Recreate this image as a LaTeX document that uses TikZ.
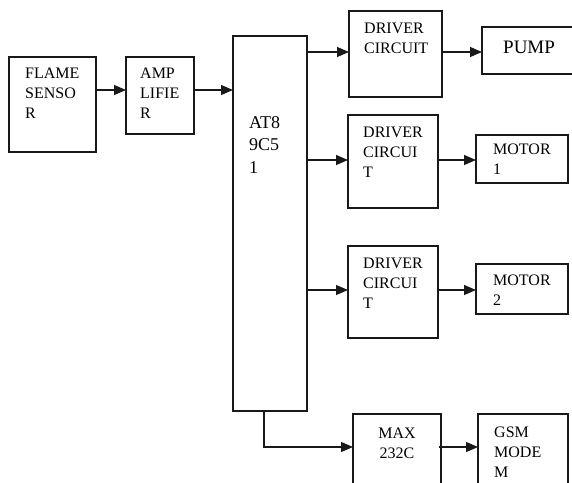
\documentclass[tikz,border=0pt]{standalone}
\usepackage{fontspec}
\setmainfont{Liberation Serif}
\usetikzlibrary{arrows.meta}
\begin{document}
\begin{tikzpicture}[x=1pt,y=-1pt,
  box/.style={draw=black!90, line width=1.1pt, anchor=north west, inner sep=0pt, outer sep=0pt},
  lbl/.style={anchor=base west, inner sep=0pt, align=left, font=\fontsize{16}{20}\selectfont},
  arr/.style={draw=black!90, line width=1.1pt, -{Triangle[length=12pt,width=10pt]}}]
\useasboundingbox (0,0) rectangle (572,482);
\clip (0,0) rectangle (572,482);
% boxes
\node[box, minimum width=87pt, minimum height=95pt] (flame) at (9,57) {};
\node[box, minimum width=68pt, minimum height=77pt] (amp) at (126,57) {};
\node[box, minimum width=74pt, minimum height=375pt] (mcu) at (233,36) {};
\node[box, minimum width=93pt, minimum height=86pt] (drv1) at (349,11) {};
\node[box, minimum width=95pt, minimum height=47pt] (pump) at (482,27) {};
\node[box, minimum width=90pt, minimum height=93pt] (drv2) at (348,115) {};
\node[box, minimum width=92pt, minimum height=48pt] (mot1) at (476,135) {};
\node[box, minimum width=90pt, minimum height=92pt] (drv3) at (348,246) {};
\node[box, minimum width=92pt, minimum height=50pt] (mot2) at (476,264) {};
\node[box, minimum width=88pt, minimum height=80pt] (max) at (353,414) {};
\node[box, minimum width=90pt, minimum height=80pt] (gsm) at (478,414) {};
% labels (anchored at the baseline of the last line)
\node[lbl] (tflame) at (25,118) {FLAME\\SENSO\\R};
\node[lbl] (tamp) at (140,118) {AMP\\LIFIE\\R};
\node[lbl, font=\fontsize{18}{22.5}\selectfont] (tmcu) at (249,173) {AT8\\9C5\\1};
\node[lbl] (tdrv1) at (364,53) {DRIVER\\CIRCUIT};
\node[lbl, font=\fontsize{19}{23}\selectfont] (tpump) at (503,53) {PUMP};
\node[lbl] (tdrv2) at (363,177) {DRIVER\\CIRCUI\\T};
\node[lbl] (tmot1) at (493,174) {MOTOR\\1};
\node[lbl] (tdrv3) at (363,308) {DRIVER\\CIRCUI\\T};
\node[lbl] (tmot2) at (493,305) {MOTOR\\2};
\node[lbl, anchor=base, align=center] (tmax) at (397,458) {MAX\\232C};
\node[lbl] (tgsm) at (494,477) {GSM\\MODE\\M};
% connector rows
\coordinate (r1) at (0,90);
\coordinate (r2) at (0,52);
\coordinate (r3) at (0,160);
\coordinate (r4) at (0,290);
\coordinate (r5) at (0,447);
\coordinate (c5) at (264,0);
\draw[arr] (flame.east |- r1) -- (amp.west |- r1);
\draw[arr] (amp.east |- r1) -- (mcu.west |- r1);
\draw[arr] (mcu.east |- r2) -- (drv1.west |- r2);
\draw[arr] ([xshift=-1pt]drv1.east |- r2) -- (pump.west |- r2);
\draw[arr] (mcu.east |- r3) -- (drv2.west |- r3);
\draw[arr] ([xshift=-1pt]drv2.east |- r3) -- (mot1.west |- r3);
\draw[arr] (mcu.east |- r4) -- (drv3.west |- r4);
\draw[arr] ([xshift=-1pt]drv3.east |- r4) -- (mot2.west |- r4);
\draw[arr] (mcu.south -| c5) |- (max.west |- r5);
\draw[arr] ([xshift=-2pt]max.east |- r5) -- (gsm.west |- r5);
\end{tikzpicture}
\end{document}
